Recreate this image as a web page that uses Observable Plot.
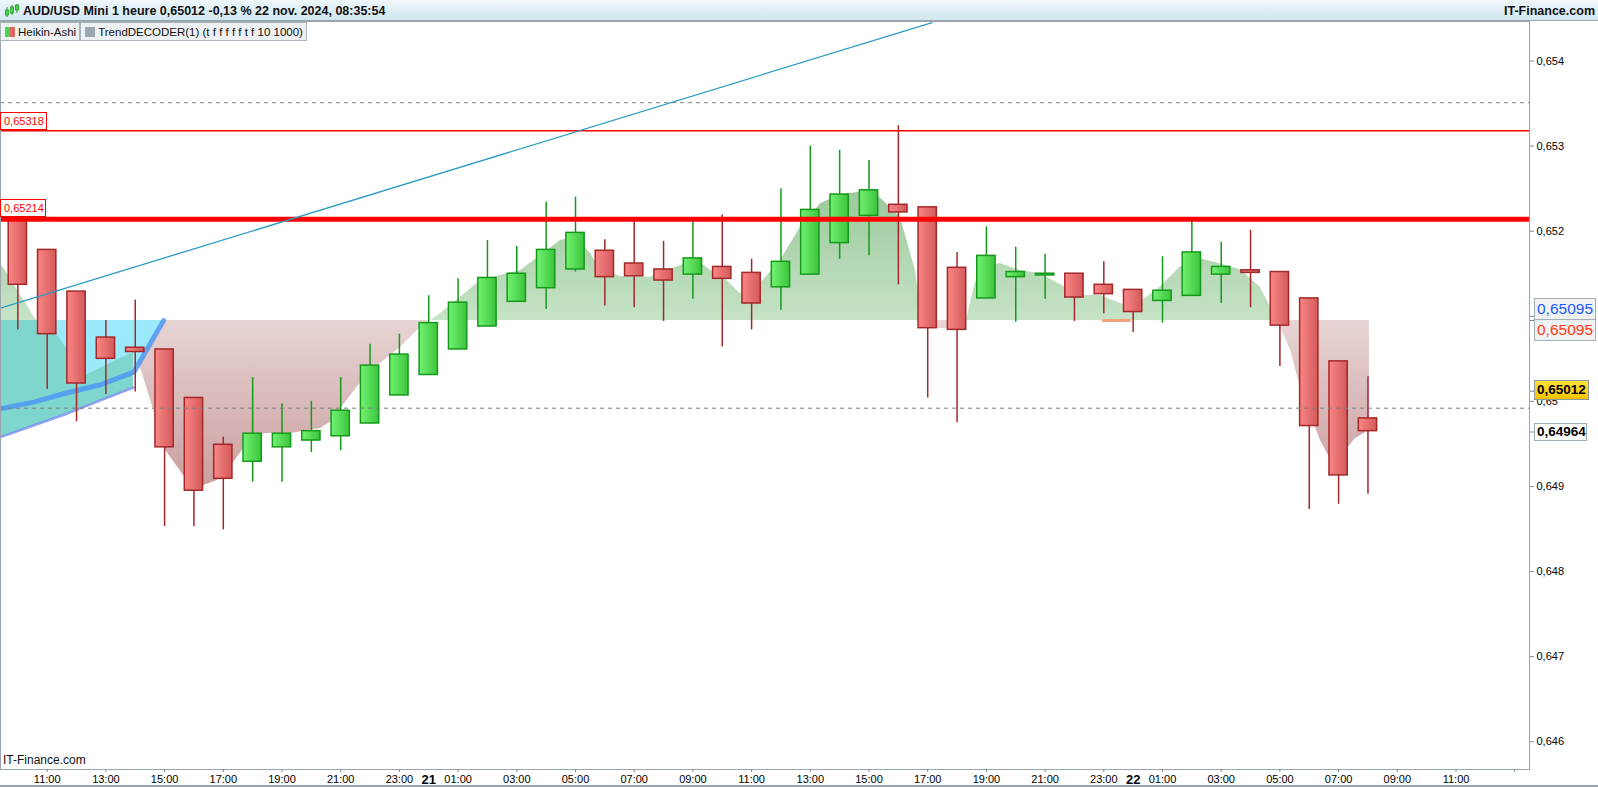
<!DOCTYPE html>
<html>
<head>
<meta charset="utf-8">
<script src="https://cdn.jsdelivr.net/npm/d3@7"></script>
<script src="https://cdn.jsdelivr.net/npm/@observablehq/plot@0.6"></script>
<style>
  body { margin: 0; background: #fff; font-family: "Liberation Sans", Arial, sans-serif; }
  #wrap { position: relative; width: 1598px; height: 787px; overflow: hidden; background: #fff; }
  #hdr { position: absolute; left: 0; top: 0; width: 1598px; height: 21px; box-sizing: border-box;
         background: linear-gradient(#eef7fc, #d2e7f2); border-bottom: 1px solid #9aa5ad; }
  #hdr .t { position: absolute; left: 23px; top: 4px; font-size: 12.5px; font-weight: bold; color: #111; white-space: nowrap; }
  #hdr .r { position: absolute; right: 3px; top: 4px; font-size: 12.5px; font-weight: bold; color: #111; }
  #hdr svg { position: absolute; left: 4px; top: 3px; }
  #chart { position: absolute; left: 0; top: 21px; }
  #leg { position: absolute; left: 0; top: 22px; display: flex; font-size: 11.5px; color: #111; }
  .lb { box-sizing: border-box; height: 19px; border: 1px solid #aab3ba; background: #eef1f3;
        display: flex; align-items: center; padding: 0 3px 0 4px; white-space: nowrap; }
  .ic { flex: none; width: 10px; height: 10px; margin-right: 3px; }
  .box { position: absolute; box-sizing: border-box; white-space: nowrap; display: flex; align-items: center; }
  #wm { position: absolute; left: 3px; top: 753px; font-size: 12px; color: #111; }
  #bot { position: absolute; left: 0; top: 785px; width: 1598px; height: 2px; background: #9aa5ad; }
</style>
</head>
<body>
<div id="wrap">
  <div id="chart"></div>
  <div id="hdr">
    <svg width="16" height="16" viewBox="0 0 16 16">
      <line x1="3" y1="4" x2="3" y2="14" stroke="#1a9c1a" stroke-width="1"/>
      <rect x="1.5" y="7" width="3" height="5" fill="#4cd44c" stroke="#1a9c1a" stroke-width="0.8"/>
      <line x1="8" y1="2" x2="8" y2="12" stroke="#1a9c1a" stroke-width="1"/>
      <rect x="6.5" y="4" width="3" height="6" fill="#4cd44c" stroke="#1a9c1a" stroke-width="0.8"/>
      <line x1="13" y1="1" x2="13" y2="10" stroke="#1a9c1a" stroke-width="1"/>
      <rect x="11.5" y="2" width="3" height="5" fill="#4cd44c" stroke="#1a9c1a" stroke-width="0.8"/>
    </svg>
    <div class="t">AUD/USD Mini 1 heure 0,65012 -0,13 % 22 nov. 2024, 08:35:54</div>
    <div class="r">IT-Finance.com</div>
  </div>
  <div id="leg">
    <div class="lb"><div class="ic" style="background:linear-gradient(90deg,#4cd44c 50%,#e06464 50%)"></div>Heikin-Ashi</div>
    <div class="lb"><div class="ic" style="background:#9aa5ad"></div>TrendDECODER(1) (t f f f f f t f 10 1000)</div>
  </div>
  <div id="wm">IT-Finance.com</div>
  <div id="bot"></div>
</div>
<script>
// ---------- DATA ----------
const candleTimes = [
  "2024-11-20T10:00","2024-11-20T11:00","2024-11-20T12:00","2024-11-20T13:00","2024-11-20T14:00",
  "2024-11-20T15:00","2024-11-20T16:00","2024-11-20T17:00","2024-11-20T18:00","2024-11-20T19:00",
  "2024-11-20T20:00","2024-11-20T21:00","2024-11-20T22:00","2024-11-20T23:00",
  "2024-11-21T00:00","2024-11-21T01:00","2024-11-21T02:00","2024-11-21T03:00","2024-11-21T04:00",
  "2024-11-21T05:00","2024-11-21T06:00","2024-11-21T07:00","2024-11-21T08:00","2024-11-21T09:00",
  "2024-11-21T10:00","2024-11-21T11:00","2024-11-21T12:00","2024-11-21T13:00","2024-11-21T14:00",
  "2024-11-21T15:00","2024-11-21T16:00","2024-11-21T17:00","2024-11-21T18:00","2024-11-21T19:00",
  "2024-11-21T20:00","2024-11-21T21:00","2024-11-21T22:00","2024-11-21T23:00",
  "2024-11-22T00:00","2024-11-22T01:00","2024-11-22T02:00","2024-11-22T03:00","2024-11-22T04:00",
  "2024-11-22T05:00","2024-11-22T06:00","2024-11-22T07:00","2024-11-22T08:00"
];
const openP  = [0.65215,0.65178,0.65129,0.65075,0.65063,0.65061,0.65004,0.64949,0.64929,0.64946,
                0.64954,0.64959,0.64974,0.65007,0.65031,0.65061,0.65088,0.65117,0.65133,0.65155,
                0.65177,0.65162,0.65155,0.65149,0.65158,0.65151,0.65134,0.65149,0.65186,0.65218,
                0.65231,0.65228,0.65157,0.65121,0.65146,0.65148,0.65150,0.65137,0.65131,0.65118,
                0.65124,0.65149,0.65154,0.65152,0.65121,0.65047,0.64980];
const highP  = [0.65218,0.65178,0.65129,0.65095,0.65119,0.65061,0.65004,0.64958,0.65028,0.64997,
                0.65000,0.65028,0.65067,0.65079,0.65124,0.65144,0.65189,0.65182,0.65234,0.65240,
                0.65190,0.65212,0.65188,0.65213,0.65219,0.65167,0.65250,0.65300,0.65295,0.65283,
                0.65324,0.65228,0.65175,0.65205,0.65181,0.65173,0.65150,0.65164,0.65131,0.65170,
                0.65211,0.65187,0.65201,0.65152,0.65121,0.65047,0.65029];
const lowP   = [0.65084,0.65014,0.64976,0.65008,0.65011,0.64853,0.64853,0.64849,0.64905,0.64905,
                0.64940,0.64942,0.64974,0.65007,0.65031,0.65061,0.65088,0.65117,0.65108,0.65152,
                0.65112,0.65110,0.65094,0.65120,0.65064,0.65084,0.65107,0.65149,0.65167,0.65171,
                0.65137,0.65004,0.64975,0.65121,0.65093,0.65120,0.65094,0.65103,0.65081,0.65092,
                0.65124,0.65115,0.65110,0.65041,0.64873,0.64879,0.64891];
const closeP = [0.65137,0.65079,0.65021,0.65050,0.65058,0.64946,0.64895,0.64909,0.64962,0.64962,
                0.64965,0.64989,0.65042,0.65055,0.65092,0.65116,0.65145,0.65150,0.65178,0.65198,
                0.65146,0.65147,0.65142,0.65168,0.65144,0.65115,0.65164,0.65225,0.65243,0.65248,
                0.65222,0.65086,0.65084,0.65171,0.65152,0.65150,0.65122,0.65126,0.65105,0.65130,
                0.65175,0.65158,0.65151,0.65089,0.64971,0.64913,0.64965];

// TrendDECODER cloud boundary (baseline 0,65095)
const cloudBase = 0.65095;
const cloudTimes = [
  "2024-11-20T09:24:30","2024-11-20T10:38","2024-11-20T12:18","2024-11-20T13:56","2024-11-20T14:14",
  "2024-11-20T14:41","2024-11-20T15:02","2024-11-20T15:39","2024-11-20T16:20","2024-11-20T16:48",
  "2024-11-20T17:21","2024-11-20T18:02","2024-11-20T18:30","2024-11-20T19:17","2024-11-20T20:19",
  "2024-11-20T20:45","2024-11-20T21:00","2024-11-20T21:40","2024-11-20T22:11","2024-11-20T23:02",
  "2024-11-20T23:43","2024-11-21T00:04","2024-11-21T00:24","2024-11-21T01:05","2024-11-21T01:46",
  "2024-11-21T02:26","2024-11-21T03:08","2024-11-21T03:49","2024-11-21T04:29","2024-11-21T05:00",
  "2024-11-21T05:31","2024-11-21T05:51","2024-11-21T06:32","2024-11-21T07:33","2024-11-21T08:35",
  "2024-11-21T09:05","2024-11-21T09:36","2024-11-21T09:56","2024-11-21T10:37","2024-11-21T11:18",
  "2024-11-21T11:59","2024-11-21T12:40","2024-11-21T13:21","2024-11-21T14:02","2024-11-21T14:43",
  "2024-11-21T15:23","2024-11-21T16:04","2024-11-21T16:35","2024-11-21T16:49","2024-11-21T17:05",
  "2024-11-21T17:56","2024-11-21T18:19","2024-11-21T18:37","2024-11-21T18:58","2024-11-21T19:28",
  "2024-11-21T20:09","2024-11-21T20:50","2024-11-21T21:31","2024-11-21T22:12","2024-11-21T22:53",
  "2024-11-21T23:44","2024-11-22T00:14","2024-11-22T00:55","2024-11-22T01:36","2024-11-22T02:17",
  "2024-11-22T02:58","2024-11-22T03:39","2024-11-22T04:20","2024-11-22T04:41","2024-11-22T04:55",
  "2024-11-22T05:22","2024-11-22T05:42","2024-11-22T06:23","2024-11-22T06:43","2024-11-22T07:04",
  "2024-11-22T07:34","2024-11-22T08:03"
];
const cloudValues = [
  0.651624,0.65095,0.650304,0.650575,0.650343,
  0.649834,0.649423,0.649129,0.649012,0.649070,
  0.649282,0.649599,0.649623,0.649623,0.649681,
  0.649775,0.649916,0.650210,0.650398,0.650633,
  0.650868,0.65095,0.651033,0.651224,0.651421,
  0.651479,0.651538,0.651714,0.651891,0.651929,
  0.651734,0.651538,0.651468,0.651459,0.651597,
  0.651679,0.651538,0.651503,0.651264,0.651385,
  0.651656,0.652047,0.652322,0.652431,0.652458,
  0.652392,0.652165,0.651538,0.65095,0.650857,
  0.650857,0.65095,0.651385,0.651577,0.651620,
  0.651538,0.651499,0.651374,0.651244,0.651244,
  0.651127,0.651166,0.651342,0.651577,0.651676,
  0.651617,0.651546,0.651342,0.651107,0.65095,
  0.650598,0.650167,0.649541,0.649325,0.649344,
  0.649560,0.649658
];
const redCloudFrom = "2024-11-20T13:56";

// Cyan band (left), its lower edge, the teal overlap, and the two blue lines
const bandTimes  = ["2024-11-20T09:24:30","2024-11-20T10:32","2024-11-20T11:41:30","2024-11-20T12:49","2024-11-20T13:56","2024-11-20T13:57","2024-11-20T14:58"];
const bandLower  = [0.649579,0.649717,0.649858,0.650011,0.650163,0.650343,0.65095];
const tealTimes  = ["2024-11-20T09:24:30","2024-11-20T11:00","2024-11-20T12:18","2024-11-20T13:56"];
const tealTop    = [0.65095,0.65095,0.650304,0.650575];
const tealBottom = [0.649579,0.649770,0.649941,0.650163];
const thickTimes = ["2024-11-20T09:24:30","2024-11-20T10:32:30","2024-11-20T11:41","2024-11-20T12:49","2024-11-20T13:57","2024-11-20T14:58"];
const thickVals  = [0.649913,0.649991,0.650101,0.650195,0.650343,0.65095];
const thinTimes  = ["2024-11-20T09:24:30","2024-11-20T10:32","2024-11-20T11:41:30","2024-11-20T12:49","2024-11-20T13:56"];
const thinVals   = [0.649579,0.649717,0.649858,0.650011,0.650163];

// Trend line, levels
const trendTimes = ["2024-11-20T09:24:30","2024-11-21T17:09"];
const trendVals  = [0.651095,0.654452];
const redLevels  = [0.65318, 0.65214];
const dashedLevels = [0.65351, 0.64992];
const orangeSeg  = {from: "2024-11-21T22:57", to: "2024-11-21T23:56", v: 0.65095};

// Axes (0,651 sits under the two 0,65095 boxes: tick only)
const yTicks = [0.646,0.647,0.648,0.649,0.650,0.652,0.653,0.654];
const yTicksHidden = [0.651];
const xTickLabels = [
  "2024-11-20T11:00","2024-11-20T13:00","2024-11-20T15:00","2024-11-20T17:00","2024-11-20T19:00",
  "2024-11-20T21:00","2024-11-20T23:00","2024-11-21T01:00","2024-11-21T03:00","2024-11-21T05:00",
  "2024-11-21T07:00","2024-11-21T09:00","2024-11-21T11:00","2024-11-21T13:00","2024-11-21T15:00",
  "2024-11-21T17:00","2024-11-21T19:00","2024-11-21T21:00","2024-11-21T23:00","2024-11-22T01:00",
  "2024-11-22T03:00","2024-11-22T05:00","2024-11-22T07:00","2024-11-22T09:00","2024-11-22T11:00"
];
const xTickUnlabeled = ["2024-11-22T13:00"];
const dayTicks = ["2024-11-21T00:00","2024-11-22T00:00"];
const xDomain = ["2024-11-20T09:24:32","2024-11-22T13:30:14"];
const yDomain = [0.645674, 0.654464];

const priceBoxes = [
  {v: 0.65095, text: "0,65095", kind: "blueUp"},
  {v: 0.65095, text: "0,65095", kind: "redDown"},
  {v: 0.65012, text: "0,65012", kind: "yellow"},
  {v: 0.64964, text: "0,64964", kind: "plain"}
];

// ---------- BUILD ----------
const T = s => new Date(s + "Z");
const candles = candleTimes.map((s, i) => ({t: T(s), o: openP[i], h: highP[i], l: lowP[i], c: closeP[i]}));
const up = candles.filter(d => d.c >= d.o);
const down = candles.filter(d => d.c < d.o);
const cloud = cloudTimes.map((s, i) => ({t: T(s), v: cloudValues[i]}));
const redCloud = cloud.filter(d => d.t >= T(redCloudFrom));
const band = bandTimes.map((s, i) => ({t: T(s), v: bandLower[i]}));
const teal = tealTimes.map((s, i) => ({t: T(s), top: tealTop[i], bot: tealBottom[i]}));
const thick = thickTimes.map((s, i) => ({t: T(s), v: thickVals[i]}));
const thin = thinTimes.map((s, i) => ({t: T(s), v: thinVals[i]}));
const trend = trendTimes.map((s, i) => ({t: T(s), v: trendVals[i]}));
const HW = 18.7 * 60000;
const fmtY = d => String(+d.toFixed(3)).replace(".", ",");

const defs = () => {
  const svg = d3.create("svg:defs");
  const lg = (id, x2, y2, stops) => {
    const g = svg.append("linearGradient").attr("id", id).attr("x1", 0).attr("y1", 0).attr("x2", x2).attr("y2", y2);
    stops.forEach(([o, c]) => g.append("stop").attr("offset", o).attr("stop-color", c));
  };
  lg("gGreenArea", 0, 1, [[0, "#9cc99c"], [1, "#c6e3c6"]]);
  lg("gRedArea", 0, 1, [[0, "#e7d4d4"], [1, "#cb9f9f"]]);
  lg("gRedBody", 1, 0, [[0, "#f98686"], [1, "#d45a5a"]]);
  lg("gGreenBody", 1, 0, [[0, "#72f272"], [1, "#3cc43c"]]);
  return svg.node();
};

const red = "#a3282a", green = "#14991a";

const chart = Plot.plot({
  width: 1598,
  height: 766,
  marginLeft: 0,
  marginRight: 69,
  marginTop: 0,
  marginBottom: 18,
  style: {fontFamily: "'Liberation Sans', Arial, sans-serif", background: "transparent", overflow: "visible"},
  x: {type: "utc", domain: xDomain.map(T)},
  y: {domain: yDomain},
  marks: [
    defs,
    // cloud
    Plot.areaY(cloud, {x: "t", y1: () => cloudBase, y2: d => Math.max(d.v, cloudBase), fill: "url(#gGreenArea)"}),
    Plot.areaY(redCloud, {x: "t", y1: () => cloudBase, y2: d => Math.min(d.v, cloudBase), fill: "url(#gRedArea)"}),
    Plot.areaY(band, {x: "t", y1: () => cloudBase, y2: "v", fill: "#9be9fb"}),
    Plot.areaY(teal, {x: "t", y1: "bot", y2: "top", fill: "#7fd6ce"}),
    Plot.line(thick, {x: "t", y: "v", stroke: "#4f98f2", strokeWidth: 5, strokeOpacity: 0.85}),
    Plot.line(thin, {x: "t", y: "v", stroke: "#6f86f0", strokeWidth: 2.5, strokeOpacity: 0.75}),
    Plot.ruleY([orangeSeg], {x1: d => T(d.from), x2: d => T(d.to), y: "v", stroke: "#f4a27c", strokeWidth: 3}),
    // candles
    Plot.ruleX(down, {x: "t", y1: "l", y2: "h", stroke: red, strokeWidth: 1.5}),
    Plot.ruleX(up, {x: "t", y1: "l", y2: "h", stroke: green, strokeWidth: 1.5}),
    Plot.rect(down, {x1: d => new Date(+d.t - HW), x2: d => new Date(+d.t + HW), y1: "o", y2: "c", fill: "url(#gRedBody)", stroke: red, strokeWidth: 1.5}),
    Plot.rect(up, {x1: d => new Date(+d.t - HW), x2: d => new Date(+d.t + HW), y1: "o", y2: "c", fill: "url(#gGreenBody)", stroke: green, strokeWidth: 1.5}),
    // levels
    Plot.ruleY(dashedLevels, {stroke: "#7f7f7f", strokeWidth: 1, strokeDasharray: "4,4"}),
    Plot.ruleY([redLevels[0]], {stroke: "#ff0000", strokeWidth: 1.3}),
    Plot.ruleY([redLevels[1]], {stroke: "#ff0000", strokeWidth: 5}),
    Plot.line(trend, {x: "t", y: "v", stroke: "#2a9cc0", strokeWidth: 1.3, clip: true}),
    // axes
    Plot.frame({stroke: "#9aa5ad"}),
    Plot.axisY(yTicks, {anchor: "right", tickFormat: fmtY, tickSize: 4, tickPadding: 3, fontSize: 11, stroke: "#7d8890", fill: "#000", label: null}),
    Plot.axisY(yTicksHidden.concat(priceBoxes.map(d => d.v)), {anchor: "right", tickFormat: () => "", tickSize: 4, stroke: "#7d8890", label: null}),
    Plot.axisX(xTickLabels.map(T), {anchor: "bottom", tickFormat: d3.utcFormat("%H:%M"), tickSize: 3, tickPadding: 3, fontSize: 11, stroke: "#7d8890", fill: "#000", label: null}),
    Plot.axisX(xTickUnlabeled.map(T), {anchor: "bottom", tickFormat: () => "", tickSize: 3, stroke: "#7d8890", label: null}),
    Plot.axisX(dayTicks.map(T), {anchor: "bottom", tickFormat: d3.utcFormat("%-d"), tickSize: 0, tickPadding: 5, fontSize: 13, fontWeight: "bold", fill: "#000", label: null})
  ]
});
document.getElementById("chart").appendChild(chart);

// ---------- LABEL BOXES (positioned through the plot's y scale) ----------
const ys = chart.scale("y");
const wrap = document.getElementById("wrap");
const TOP = 21;
function addBox(left, top, width, height, text, style) {
  const b = document.createElement("div");
  b.className = "box";
  b.textContent = text;
  Object.assign(b.style, {left: left + "px", top: top + "px", width: width + "px", height: height + "px"}, style);
  wrap.appendChild(b);
}
// left level labels
addBox(0, TOP + ys.apply(redLevels[0]) - 18, 47, 18, "0,65318",
  {border: "1px solid #ff0000", background: "#fff", color: "#ff0000", fontSize: "11px", paddingLeft: "3px"});
addBox(0, TOP + ys.apply(redLevels[1]) - 20, 46, 18, "0,65214",
  {border: "1px solid #ff0000", background: "#fff", color: "#ff0000", fontSize: "11px", paddingLeft: "3px"});
// right price boxes
priceBoxes.forEach(p => {
  const y = TOP + ys.apply(p.v);
  if (p.kind === "blueUp")
    addBox(1534, y - 22.5, 62, 22, p.text, {border: "1px solid #a3adb4", background: "#f0f1f2", color: "#1a5cff", fontSize: "15.5px", paddingLeft: "2px"});
  else if (p.kind === "redDown")
    addBox(1534, y - 1, 62, 22, p.text, {border: "1px solid #a3adb4", background: "#f0f1f2", color: "#ff3a10", fontSize: "15.5px", paddingLeft: "2px"});
  else if (p.kind === "yellow")
    addBox(1534, y - 11, 55, 20, p.text, {border: "1px solid #8f989f", background: "linear-gradient(#ffe23a,#f5c400)", color: "#000", fontSize: "13.5px", fontWeight: "bold", paddingLeft: "2px"});
  else
    addBox(1534, y - 9, 53, 18, p.text, {border: "1px solid #a3adb4", background: "#fff", color: "#000", fontSize: "13.5px", fontWeight: "bold", paddingLeft: "2px"});
});
</script>
</body>
</html>
